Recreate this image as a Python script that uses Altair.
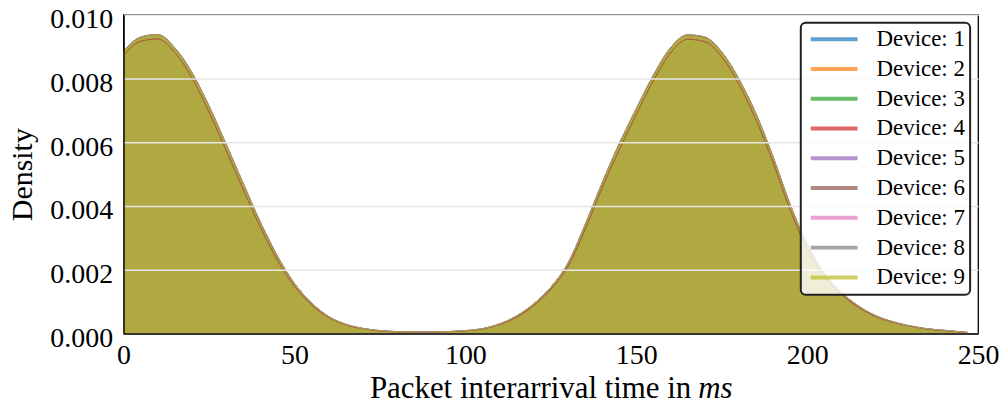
import altair as alt
import pandas as pd

# x positions (ms) where the density curves were read
x_ms = [0, 5, 10, 15, 20, 25, 30, 35, 40, 45, 50, 55, 60, 65, 70, 75, 80, 85, 90, 95,
        100, 105, 110, 115, 120, 125, 130, 135, 140, 145, 150, 155, 160, 165, 170, 175,
        180, 185, 190, 195, 200, 205, 210, 215, 220, 225, 230, 235, 240, 245, 247]

# density (x 1e-3) shared by most devices
density_main = [8.85, 9.30, 9.38, 8.96, 8.19, 7.14, 5.94, 4.71, 3.50, 2.43, 1.57, 0.96, 0.53, 0.29,
                0.16, 0.09, 0.06, 0.05, 0.05, 0.06, 0.09, 0.15, 0.30, 0.55, 0.93, 1.45, 2.20, 3.40,
                4.72, 5.95, 7.05, 8.10, 8.96, 9.37, 9.30, 8.83, 7.99, 6.90, 5.55, 4.05, 2.80, 1.88,
                1.29, 0.86, 0.56, 0.37, 0.24, 0.15, 0.10, 0.05, 0.03]

# slightly lower curve (devices 4 and 6)
density_low = [8.72, 9.17, 9.24, 8.82, 8.02, 6.95, 5.75, 4.52, 3.34, 2.30, 1.48, 0.90, 0.50, 0.27,
               0.15, 0.08, 0.05, 0.05, 0.05, 0.06, 0.08, 0.14, 0.28, 0.51, 0.87, 1.38, 2.10, 3.25,
               4.56, 5.76, 6.87, 7.93, 8.80, 9.23, 9.16, 8.68, 7.82, 6.71, 5.37, 3.88, 2.66, 1.80,
               1.23, 0.82, 0.53, 0.35, 0.23, 0.14, 0.09, 0.05, 0.03]

devices = ["Device: 1", "Device: 2", "Device: 3", "Device: 4", "Device: 5",
           "Device: 6", "Device: 7", "Device: 8", "Device: 9"]
low_devices = ["Device: 4", "Device: 6"]
colors = ["#1f77b4", "#ff7f0e", "#2ca02c", "#d62728", "#9467bd",
          "#8c564b", "#e377c2", "#7f7f7f", "#bcbd22"]

x_title_main = "Packet interarrival time in"
x_title_unit = "ms"

rows = []
for order, dev in enumerate(devices):
    curve = density_low if dev in low_devices else density_main
    for x, d in zip(x_ms, curve):
        rows.append({"device": dev, "order": order, "x": x, "density": d / 1000.0})
df = pd.DataFrame(rows)

FONT = "Liberation Serif"

x_enc = alt.X("x:Q", scale=alt.Scale(domain=[0, 250], nice=False),
              axis=alt.Axis(values=[0, 50, 100, 150, 200, 250], title=None,
                            grid=False, ticks=False, tickSize=0, labelPadding=8,
                            labelFontSize=28, domainColor="black",
                            domainWidth=1.3, zindex=1, labelFlush=False))
y_enc = alt.Y("density:Q", stack=None, scale=alt.Scale(domain=[0, 0.010], nice=False),
              axis=alt.Axis(values=[0, 0.002, 0.004, 0.006, 0.008, 0.010], format=".3f",
                            title="Density", grid=True, gridColor="#e6e6e6", gridWidth=1.5,
                            ticks=False, tickSize=0, labelPadding=11, titlePadding=12,
                            labelFontSize=28, titleFontSize=30, labelOffset=5,
                            domainColor="black", domainWidth=1.3, zindex=1))

color_enc = alt.Color("device:N", scale=alt.Scale(domain=devices, range=colors),
                      legend=alt.Legend(title=None, orient="none", legendX=680, legendY=8,
                                        symbolType="M-3,0L3,0", symbolSize=245, symbolStrokeWidth=4,
                                        symbolOffset=17, symbolOpacity=0.7,
                                        labelFontSize=23, labelFont=FONT,
                                        labelOffset=31, rowPadding=5.9, padding=5,
                                        fillColor="rgba(255,255,255,0.8)", strokeColor="#222222",
                                        cornerRadius=5, zindex=1))

base = alt.Chart(df)
areas = base.mark_area(fillOpacity=0.7, interpolate="monotone").encode(
    x=x_enc, y=y_enc, color=color_enc, order=alt.Order("order:Q"))
lines = base.mark_line(strokeWidth=1, opacity=0.55, interpolate="monotone").encode(
    x=x_enc, y=y_enc, color=color_enc, order=alt.Order("x:Q"))

title_main = alt.Chart(pd.DataFrame({"t": [x_title_main]})).mark_text(
    font=FONT, fontSize=31, align="right", baseline="alphabetic", color="black").encode(
    x=alt.value(570), y=alt.value(385), text="t:N")
title_unit = alt.Chart(pd.DataFrame({"t": [x_title_unit]})).mark_text(
    font=FONT, fontSize=31, fontStyle="italic", align="left", baseline="alphabetic",
    color="black").encode(
    x=alt.value(577), y=alt.value(385), text="t:N")

chart = alt.layer(areas, lines, title_main, title_unit).properties(
    width=858, height=320,
    autosize=alt.AutoSizeParams(type="none"),
    padding={"left": 116, "top": 6, "right": 22, "bottom": 68},
).configure_view(stroke="black", strokeWidth=1.3).configure_axis(
    labelFont=FONT, titleFont=FONT, labelColor="black", titleColor="black",
    titleFontWeight="normal").configure_legend(strokeWidth=2)

chart.save("out.html", embed_options={"renderer": "svg", "actions": False})
